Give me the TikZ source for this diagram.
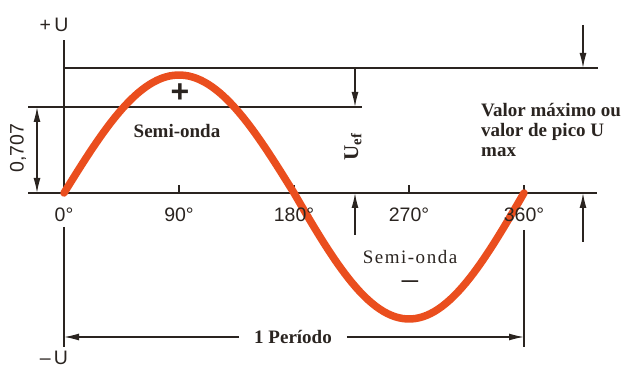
\documentclass[tikz,border=0pt]{standalone}
\usepackage{fontspec}
\setmainfont{Liberation Serif}
\setsansfont{Liberation Sans}
\usetikzlibrary{arrows.meta}
\definecolor{onda}{RGB}{234,78,30}
\definecolor{traco}{RGB}{42,36,32}

\begin{document}
\begin{tikzpicture}[x=1pt, y=1pt, >={Latex[length=15pt,width=7pt]},
  linha/.style={draw=traco, line width=1.4pt},
  rotulo/.style={font=\sffamily\fontsize{19.5}{20}\selectfont, text=traco, inner sep=0pt},
  texto/.style={font=\bfseries\fontsize{19}{20}\selectfont, text=traco, inner sep=0pt}]

\useasboundingbox (0,0) rectangle (627,370);

% pontos
\coordinate (O) at (64,177);
\coordinate (Ytop) at (64,330);
\coordinate (Xl) at (28,177);
\coordinate (Xr) at (597,177);
\coordinate (Mxl) at (64,302);
\coordinate (Mxr) at (598,302);
\coordinate (Efl) at (28,263);
\coordinate (Efr) at (362,263);
\coordinate (P0a) at (64,143);
\coordinate (P0b) at (64,23);
\coordinate (P360a) at (524,140);
\coordinate (P360b) at (524,23);
\coordinate (P0) at (64,33);
\coordinate (P360) at (524,33);

% eixos
\draw[linha] (Xl) -- (Xr);
\draw[linha] (O) -- (Ytop);

% linhas de valor maximo e 0,707
\draw[linha] (Mxl) -- (Mxr);
\draw[linha] (Efl) -- (Efr);

% marcas dos graus
\foreach \g in {90,180,270,360}
  \draw[linha] ({64+\g/90*115},177) -- ++(0,8);

% limites do periodo
\draw[linha] (P0a) -- (P0b);
\draw[linha] (P360a) -- (P360b);

% curva
\draw[onda, line width=7.5pt, line cap=round]
  plot[domain=0:180, samples=60] ({64+\x/90*115},{177+118*sin(\x)})
  -- plot[domain=180:360, samples=60] ({64+\x/90*115},{177+126*sin(\x)});

% graus
\foreach \g in {0,90,180,270,360}
  \node[rotulo] (g\g) at ({64+\g/90*115},155) {\g°};

% U maximo e minimo
\node[rotulo] (Umais) at (54,345) {+\,U};
\node[rotulo] (Umenos) at (54,12) {–\,U};

% 0,707
\coordinate (A1) at (37,263);
\coordinate (A2) at (37,177);
\draw[linha, <->] (A1) -- (A2);
\node[rotulo, rotate=90] (fator) at (18,222) {0,707};

% U ef
\coordinate (E1) at (355,302);
\coordinate (E2) at (355,263);
\coordinate (E3) at (355,135);
\coordinate (E4) at (355,177);
\draw[linha, ->] (E1) -- (E2);
\draw[linha, ->] (E3) -- (E4);
\node[texto, font=\bfseries\fontsize{21}{22}\selectfont, rotate=90] (Uef) at (353,223) {U\textsubscript{ef}};

% valor de pico
\coordinate (M1) at (583,345);
\coordinate (M2) at (583,302);
\coordinate (M3) at (583,128);
\coordinate (M4) at (583,177);
\draw[linha, ->] (M1) -- (M2);
\draw[linha, ->] (M3) -- (M4);
\node[texto, anchor=north west, align=left] (pico) at (481,267)
  {Valor máximo ou\\valor de pico U\\max};

% semi-ondas
\node[texto] (semi1) at (177,239) {Semi-onda};
\node[texto, font=\sffamily\bfseries\fontsize{32}{32}\selectfont] (mais) at (180,277) {+};
\node[texto, font=\addfontfeatures{LetterSpace=8}\fontsize{19}{20}\selectfont] (semi2) at (410,113) {Semi-onda};
\node[texto, font=\bfseries\fontsize{18}{18}\selectfont] (menos) at (410,86) {\scalebox{1.8}[1.4]{–}};

% periodo
\node[texto, inner xsep=15pt] (periodo) at (293,33) {1 Período};
\draw[linha, ->] (periodo.west) -- (P0);
\draw[linha, ->] (periodo.east) -- (P360);

\end{tikzpicture}
\end{document}
